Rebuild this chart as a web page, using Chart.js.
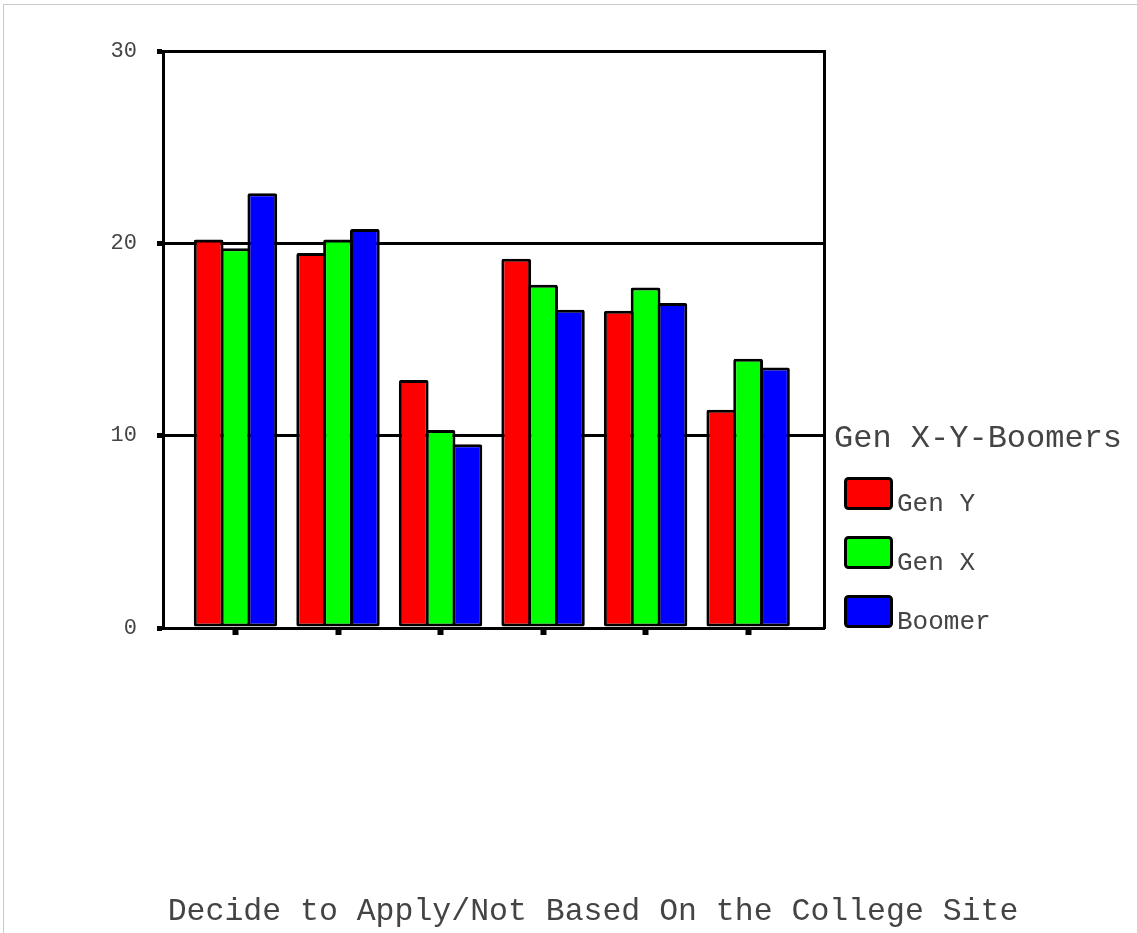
<!DOCTYPE html>
<html>
<head>
<meta charset="utf-8">
<script src="https://cdn.jsdelivr.net/npm/chart.js@4/dist/chart.umd.min.js"></script>
<style>
  html, body { margin: 0; padding: 0; background: #fff; }
  #wrap { position: absolute; left: 0; top: 0; width: 1137px; height: 933px; overflow: hidden; }
  #frame { position: absolute; left: 3px; top: 4px; right: 0; bottom: 0;
           border-top: 1px solid #c8c8c8; border-left: 1px solid #c8c8c8; pointer-events: none; }
  canvas { display: block; }
</style>
</head>
<body>
<div id="wrap">
  <canvas id="chart" width="1137" height="933"></canvas>
  <div id="frame"></div>
</div>
<script>
// Response categories along the x axis (unlabelled, one tick per group)
const categories = ['1', '2', '3', '4', '5', '6'];

// Percent of respondents per generation
const genY   = [20.2, 19.5, 12.9, 19.2, 16.5, 11.35];
const genX   = [19.75, 20.2, 10.3, 17.85, 17.7, 14.0];
const boomer = [22.6, 20.75, 9.55, 16.55, 16.9, 13.55];

const seriesNames  = ['Gen Y', 'Gen X', 'Boomer'];
const seriesColors = ['#ff0000', '#00ff00', '#0000ff'];
const seriesValues = [genY, genX, boomer];

const yTicks = [0, 10, 20, 30];
const legendTitle = 'Gen X-Y-Boomers';
const axisTitle = 'Decide to Apply/Not Based On the College Site';

const FONT = '"Liberation Mono", "Courier New", monospace';
const TEXT = '#444444';

const datasets = seriesNames.map((name, s) => ({
  label: name,
  data: seriesValues[s].map((v, i) => ({ x: i, y: v })),
  backgroundColor: seriesColors[s],
  borderColor: '#000',
  borderWidth: 3,
  borderSkipped: false,
  borderRadius: 2,
  categoryPercentage: 0.785,
  barPercentage: 1.11
}));

// Side legend with a title, plus the centred caption under the plot
const decorations = {
  id: 'decorations',
  afterDraw(chart) {
    const ctx = chart.ctx;
    ctx.save();
    ctx.fillStyle = TEXT;
    ctx.textAlign = 'left';
    ctx.textBaseline = 'alphabetic';
    ctx.font = '32px ' + FONT;
    ctx.fillText(legendTitle, 834, 447);

    chart.data.datasets.forEach((ds, i) => {
      const top = 477 + i * 59;
      ctx.beginPath();
      ctx.roundRect(845.5, top + 1.5, 46, 30, 3);
      ctx.fillStyle = ds.backgroundColor;
      ctx.fill();
      ctx.lineWidth = 3;
      ctx.strokeStyle = '#000';
      ctx.stroke();
      ctx.fillStyle = TEXT;
      ctx.font = '26px ' + FONT;
      ctx.fillText(ds.label, 897, top + 34);
    });

    ctx.textAlign = 'center';
    ctx.font = '31.5px ' + FONT;
    ctx.fillText(axisTitle, 593, 920);
    ctx.restore();
  }
};

new Chart(document.getElementById('chart'), {
  type: 'bar',
  data: { datasets },
  plugins: [decorations],
  options: {
    responsive: false,
    animation: false,
    devicePixelRatio: 1,
    layout: { padding: { left: 0, top: 51, right: 313, bottom: 0 } },
    plugins: { legend: { display: false }, tooltip: { enabled: false }, title: { display: false } },
    scales: {
      x: {
        type: 'linear',
        offset: false,
        min: -0.707,
        max: 5.74,
        afterBuildTicks: (s) => { s.ticks = categories.map((_, i) => ({ value: i })); },
        afterFit: (s) => { s.height = 305; },
        ticks: { display: false },
        grid: { display: true, offset: false, drawOnChartArea: false, drawTicks: true, tickLength: 7, tickWidth: 6, tickColor: '#000', z: 1 },
        border: { display: true, color: '#000', width: 3, z: 1 }
      },
      y: {
        min: 0,
        max: 30,
        afterBuildTicks: (s) => { s.ticks = yTicks.map(v => ({ value: v })); },
        afterFit: (s) => { s.width = 163; },
        ticks: { color: TEXT, font: { family: FONT, size: 22 }, padding: 20 },
        grid: { color: '#000', lineWidth: 3, tickLength: 6, tickWidth: 5, tickColor: '#000' },
        border: { display: true, color: '#000', width: 3 }
      },
      yR: {
        position: 'right',
        min: 0,
        max: 30,
        afterFit: (s) => { s.width = 0; },
        ticks: { display: false },
        grid: { display: false, drawTicks: false },
        border: { display: true, color: '#000', width: 3 }
      }
    }
  }
});
</script>
</body>
</html>
